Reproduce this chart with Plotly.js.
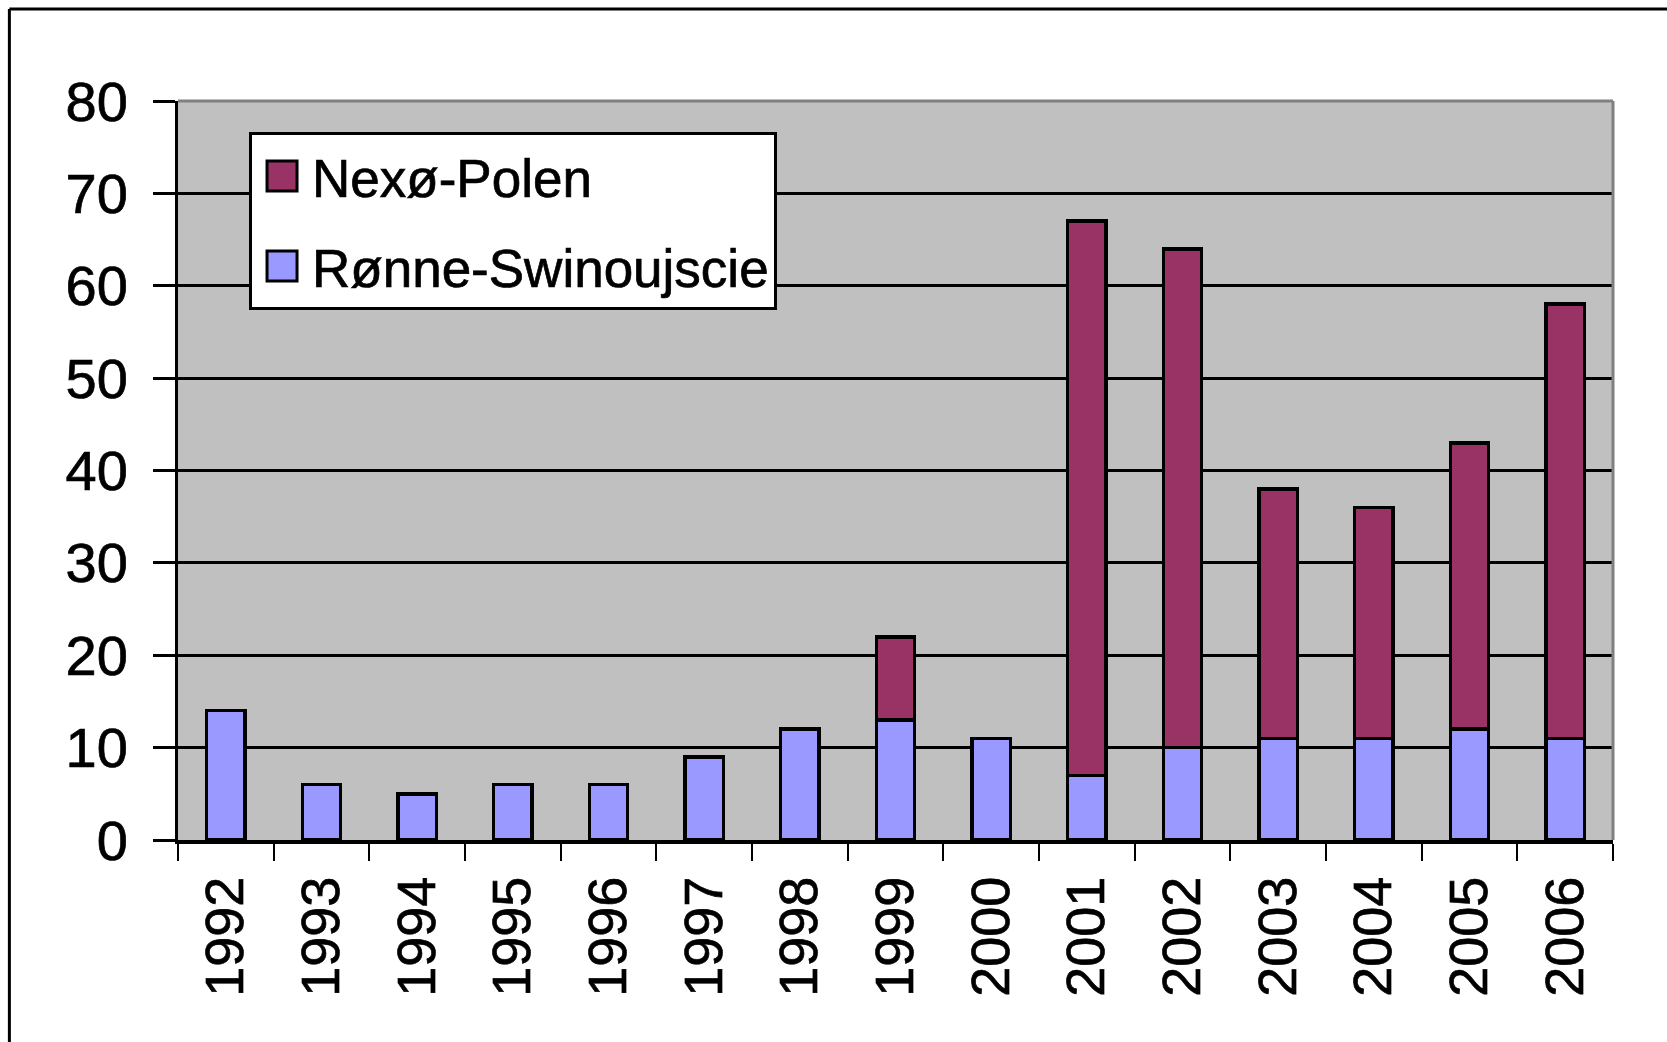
<!DOCTYPE html>
<html>
<head>
<meta charset="utf-8">
<script src="https://cdn.plot.ly/plotly-3.0.1.min.js"></script>
<style>
html,body{margin:0;padding:0;background:#fff;}
#chart{width:1667px;height:1042px;}
#chart text{stroke:#000000;stroke-width:0.7px;}
</style>
</head>
<body>
<div id="chart"></div>
<script>
const years = ["1992","1993","1994","1995","1996","1997","1998","1999","2000","2001","2002","2003","2004","2005","2006"];
const ronneSwinoujscie = [14, 6, 5, 6, 6, 9, 12, 13, 11, 7, 10, 11, 11, 12, 11];
const nexoPolen = [0, 0, 0, 0, 0, 0, 0, 9, 0, 60, 54, 27, 25, 31, 47];
const yTicks = [0, 10, 20, 30, 40, 50, 60, 70, 80];

const FONT = "Liberation Sans, Arial, sans-serif";

const traces = [
  {
    type: "bar", name: "Rønne-Swinoujscie", x: years, y: ronneSwinoujscie,
    legendgroup: "r", legendrank: 2,
    marker: {color: "#9999FF", line: {color: "#000000", width: 3.5}}
  },
  {
    type: "bar", name: "Nexø-Polen", x: years, y: nexoPolen.map(v => v === 0 ? null : v),
    legendgroup: "n", legendrank: 1,
    marker: {color: "#993366", line: {color: "#000000", width: 3.5}}
  }
];

const layout = {
  width: 1667, height: 1042,
  margin: {l: 178, r: 54, t: 101, b: 202},
  paper_bgcolor: "#ffffff",
  plot_bgcolor: "#C0C0C0",
  barmode: "stack",
  bargap: 0.6,
  font: {family: FONT, color: "#000000", size: 53},
  showlegend: true,
  legend: {
    x: 0.0495, y: 0.958, xanchor: "left", yanchor: "top",
    bgcolor: "#ffffff", bordercolor: "#000000", borderwidth: 3,
    traceorder: "grouped", tracegroupgap: 18,
    font: {family: FONT, size: 53, color: "#000000"},
    itemwidth: 50
  },
  xaxis: {
    type: "category",
    tickson: "boundaries",
    ticks: "outside", ticklen: 17, tickwidth: 2, tickcolor: "#000000",
    tickangle: -90,
    tickfont: {family: FONT, size: 54, color: "#000000"},
    ticklabelstandoff: 11,
    showline: true, linecolor: "#000000", linewidth: 4,
    showgrid: false, zeroline: false, fixedrange: true
  },
  yaxis: {
    range: [0, 80],
    tickvals: yTicks, ticktext: yTicks.map(String),
    ticks: "outside", ticklen: 22, tickwidth: 3, tickcolor: "#000000",
    tickfont: {family: FONT, size: 56, color: "#000000"},
    ticklabelstandoff: 14,
    showline: true, linecolor: "#000000", linewidth: 3,
    showgrid: true, gridcolor: "#000000", gridwidth: 3,
    zeroline: false, fixedrange: true
  },
  shapes: [
    {type: "line", xref: "paper", yref: "paper", x0: 0, x1: 1, y0: 1, y1: 1,
     line: {color: "#808080", width: 3}, layer: "above"},
    {type: "line", xref: "paper", yref: "paper", x0: 1, x1: 1, y0: 0, y1: 1,
     line: {color: "#808080", width: 3}, layer: "above"},
    {type: "line", xref: "paper", yref: "paper", x0: -0.1175, x1: 1.2, y0: 1.1245, y1: 1.1245,
     line: {color: "#000000", width: 3}, layer: "above"},
    {type: "line", xref: "paper", yref: "paper", x0: -0.1175, x1: -0.1175, y0: -0.5, y1: 1.1245,
     line: {color: "#000000", width: 3}, layer: "above"}
  ]
};

function enlargeLegendSymbols() {
  document.querySelectorAll("#chart .legend .legendpoints path").forEach(p => {
    p.setAttribute("d", "M15,15H-15V-15H15Z");
    p.style.strokeWidth = "3px";
    p.style.stroke = "#000000";
  });
}

Plotly.newPlot("chart", traces, layout, {displayModeBar: false, staticPlot: true}).then(gd => {
  enlargeLegendSymbols();
  gd.on("plotly_afterplot", enlargeLegendSymbols);
});
</script>
</body>
</html>
